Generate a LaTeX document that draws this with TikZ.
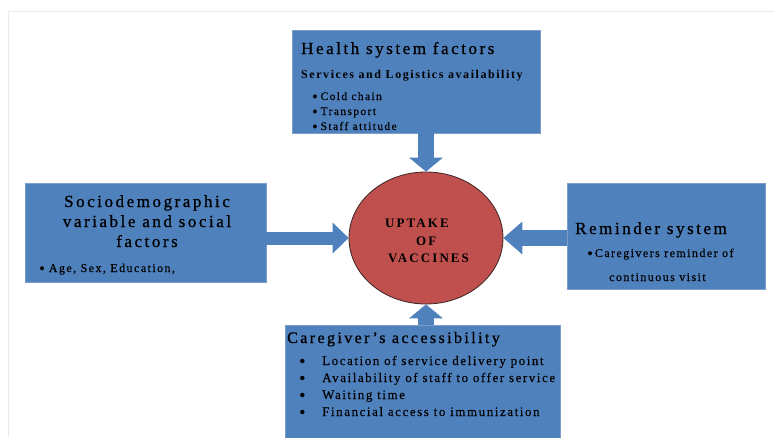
\documentclass[tikz,border=0pt]{standalone}
\usepackage{fontspec}
\setmainfont{Liberation Serif}
\newfontfamily\headfont[LetterSpace=15,FakeBold=0.8]{Liberation Serif}
\newfontfamily\subfont[LetterSpace=13]{Liberation Serif}
\newfontfamily\bodyfont[LetterSpace=12,FakeBold=0.2]{Liberation Serif}
\newfontfamily\hubfont[LetterSpace=16]{Liberation Serif}
\usetikzlibrary{arrows.meta,shapes.geometric}

\definecolor{boxblue}{HTML}{4F81BD}
\definecolor{boxedge}{HTML}{7B9DCC}
\definecolor{ovalred}{HTML}{C0504D}
\definecolor{ovalline}{HTML}{3A2424}
\definecolor{framegray}{HTML}{EAEAEA}

% list bullet, a little heavier than the plain text bullet
\newcommand\itemdot{\raisebox{-0.3ex}{\scalebox{1.35}{\textbullet}}}

\tikzset{
  panel/.style={rectangle, fill=boxblue, draw=boxedge, line width=0.8pt, inner sep=0pt},
  hub/.style={ellipse, fill=ovalred, draw=ovalline, line width=0.8pt, inner sep=0pt,
              minimum width=154pt, minimum height=132pt},
  txt/.style={inner sep=0pt, anchor=base west, text=black},
  headtxt/.style={txt, font=\headfont\fontsize{17}{20}\selectfont},
  subtxt/.style={txt, font=\subfont\bfseries\fontsize{12}{14}\selectfont},
  itemtxt/.style={txt, font=\bodyfont\fontsize{11.5}{13}\selectfont},
  miditem/.style={txt, font=\bodyfont\fontsize{12}{14}\selectfont},
  bigitem/.style={txt, font=\bodyfont\fontsize{13}{15}\selectfont},
  hubtxt/.style={txt, font=\hubfont\bfseries\fontsize{13}{15}\selectfont},
  feed/.style={draw=boxblue, line width=16pt,
               -{Triangle[length=14pt,width=34pt,line width=0pt]}}
}

\begin{document}
\begin{tikzpicture}[x=1pt,y=-1pt]
  \clip (0,0) rectangle (774,437);
  \fill[white] (0,0) rectangle (774,437);

  % faint page frame
  \draw[framegray, line width=1pt] (8,437) -- (8,11) -- (774,11);

  % the four factor panels and the central outcome
  \node[panel, minimum width=248pt, minimum height=103pt] (health) at (416,81.5) {};
  \node[panel, minimum width=241pt, minimum height=99pt]  (socio)  at (145.5,232.5) {};
  \node[panel, minimum width=198pt, minimum height=106pt] (remind) at (666,236) {};
  \node[panel, minimum width=275pt, minimum height=124pt] (access) at (422.5,387) {};
  \node[hub] (uptake) at (426,238) {};

  % block arrows feeding the outcome
  \draw[feed] (uptake.north |- health.south) -- (uptake.north);
  \draw[feed, line width=13pt, -{Triangle[length=16pt,width=31pt,line width=0pt]}]
    (socio.east |- uptake.west) -- (uptake.west);
  \draw[feed, -{Triangle[length=19pt,width=33pt,line width=0pt]}]
    (remind.west |- uptake.east) -- (uptake.east);
  \draw[feed] (uptake.south |- access.north) -- (uptake.south);

  % health system factors
  \node[headtxt] (hTitle) at (301,54) {Health system factors};
  \node[subtxt]  (hSub)   at (301,78) {Services and Logistics availability};
  \node[itemtxt] (hItemA) at (312,100) {\itemdot\hspace{3pt}Cold chain};
  \node[itemtxt] (hItemB) at (312,115) {\itemdot\hspace{3pt}Transport};
  \node[itemtxt] (hItemC) at (312,130) {\itemdot\hspace{3pt}Staff attitude};

  % sociodemographic factors
  \node[headtxt, anchor=base] (sTitleA) at (147,207) {Sociodemographic};
  \node[headtxt, anchor=base] (sTitleB) at (147,227) {variable and social};
  \node[headtxt, anchor=base] (sTitleC) at (147,247) {factors};
  \node[miditem] (sItem) at (39,272) {\itemdot\hspace{4pt}Age, Sex, Education,};

  % reminder system
  \node[headtxt] (rTitle) at (575,234) {Reminder system};
  \node[miditem] (rItemA) at (587,257) {\itemdot\hspace{2pt}Caregivers reminder of};
  \node[miditem] (rItemB) at (609,281) {continuous visit};

  % caregiver's accessibility
  \node[headtxt, font=\headfont\fontsize{16}{19}\selectfont] (aTitle) at (287,343) {Caregiver’s accessibility};
  \node[bigitem] (aItemA) at (299,365) {\makebox[23pt][l]{\itemdot}Location of service delivery point};
  \node[bigitem] (aItemB) at (299,382) {\makebox[23pt][l]{\itemdot}Availability of staff to offer service};
  \node[bigitem] (aItemC) at (299,399) {\makebox[23pt][l]{\itemdot}Waiting time};
  \node[bigitem] (aItemD) at (299,416) {\makebox[23pt][l]{\itemdot}Financial access to immunization};

  % outcome label
  \node[hubtxt] (uA) at (385,227) {UPTAKE};
  \node[hubtxt] (uB) at (416,245) {OF};
  \node[hubtxt] (uC) at (388,262) {VACCINES};
\end{tikzpicture}
\end{document}
